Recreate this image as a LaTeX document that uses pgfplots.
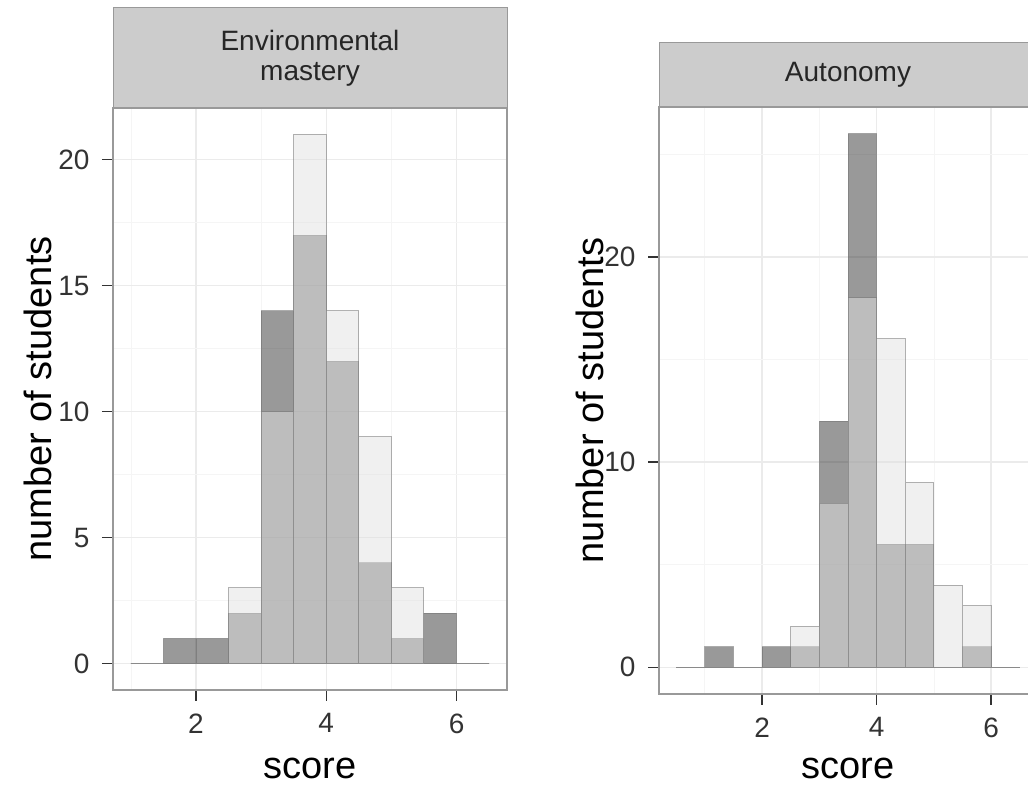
\documentclass[border=0pt]{standalone}
\usepackage{pgfplots}
\pgfplotsset{compat=1.18}
\usepackage{fontspec}
\setmainfont{Liberation Sans}
\definecolor{darkfill}{HTML}{333333}
\definecolor{lightfill}{HTML}{E1E1E1}
\definecolor{gridmaj}{HTML}{EBEBEB}
\definecolor{gridmin}{HTML}{F5F5F5}
\definecolor{border}{HTML}{999999}
\definecolor{stripfill}{HTML}{CCCCCC}
\pgfplotsset{
  facet/.style={
    scale only axis,
    axis line style={draw=border, line width=1.5pt},
    tick align=outside,
    tick pos=left,
    major tick length=11pt,
    minor tick length=0pt,
    major tick style={draw=black!80, line width=1.5pt},
    grid=both,
    major grid style={draw=gridmaj, line width=1.5pt},
    minor grid style={draw=gridmin, line width=0.8pt},
    tick label style={font=\fontsize{28}{32}\selectfont, text=black!80},
    xticklabel style={yshift=-9pt},
    yticklabel style={xshift=-9pt},
    /pgf/number format/assume math mode=true,
    xlabel={score}, ylabel={number of students},
    xtick={2,4,6}, minor xtick={1,3,5},
  },
  darkbar/.style={ybar interval, fill=darkfill, fill opacity=0.5, draw=black!55, draw opacity=0.55, line width=1pt},
  lightbar/.style={ybar interval, fill=lightfill, fill opacity=0.5, draw=black!55, draw opacity=0.55, line width=1pt},
}
\begin{document}
\begin{tikzpicture}
\useasboundingbox (0,0) rectangle (1028pt,786pt);
\begin{axis}[facet, name=L, at={(113pt,96pt)}, anchor=south west,
  width=394pt, height=582pt,
  xmin=0.725, xmax=6.775, ymin=-1.05, ymax=22.05,
  ytick={0,5,10,15,20}, minor ytick={2.5,7.5,12.5,17.5},
  every axis y label/.style={at={([xshift=-75pt]rel axis cs:0,0.5)}, rotate=90, anchor=center, font=\fontsize{38}{44}\selectfont},
  every axis x label/.style={at={([yshift=-89pt]rel axis cs:0.5,0)}, anchor=base, font=\fontsize{38}{44}\selectfont},
]
\addplot[darkbar] coordinates {(1,0)(1.5,1)(2,1)(2.5,2)(3,14)(3.5,17)(4,12)(4.5,4)(5,1)(5.5,2)(6,0)(6.5,0)};
\addplot[lightbar] coordinates {(1,0)(1.5,0)(2,0)(2.5,3)(3,10)(3.5,21)(4,14)(4.5,9)(5,3)(5.5,0)(6,0)(6.5,0)};
\end{axis}
\begin{axis}[facet, name=R, at={(659pt,92pt)}, anchor=south west,
  width=378pt, height=587pt,
  xmin=0.2, xmax=6.8, ymin=-1.3, ymax=27.3,
  ytick={0,10,20}, minor ytick={5,15,25},
  every axis y label/.style={at={([xshift=-69pt]rel axis cs:0,0.5)}, rotate=90, anchor=center, font=\fontsize{38}{44}\selectfont},
  every axis x label/.style={at={([yshift=-85pt]rel axis cs:0.5,0)}, anchor=base, font=\fontsize{38}{44}\selectfont},
]
\addplot[darkbar] coordinates {(0.5,0)(1,1)(1.5,0)(2,1)(2.5,1)(3,12)(3.5,26)(4,6)(4.5,6)(5,0)(5.5,1)(6,0)(6.5,0)};
\addplot[lightbar] coordinates {(0.5,0)(1,0)(1.5,0)(2,0)(2.5,2)(3,8)(3.5,18)(4,16)(4.5,9)(5,4)(5.5,3)(6,0)(6.5,0)};
\end{axis}
\filldraw[fill=stripfill, draw=border, line width=1pt] (L.north west) rectangle ([yshift=100pt]L.north east);
\filldraw[fill=stripfill, draw=border, line width=1pt] (R.north west) rectangle ([yshift=64pt]R.north east);
\node[align=center, font=\fontsize{28}{30}\selectfont, text=black!85] at ([yshift=50pt]L.north) {Environmental\\mastery};
\node[font=\fontsize{28}{30}\selectfont, text=black!85] at ([yshift=32pt]R.north) {Autonomy};
\end{tikzpicture}
\end{document}
